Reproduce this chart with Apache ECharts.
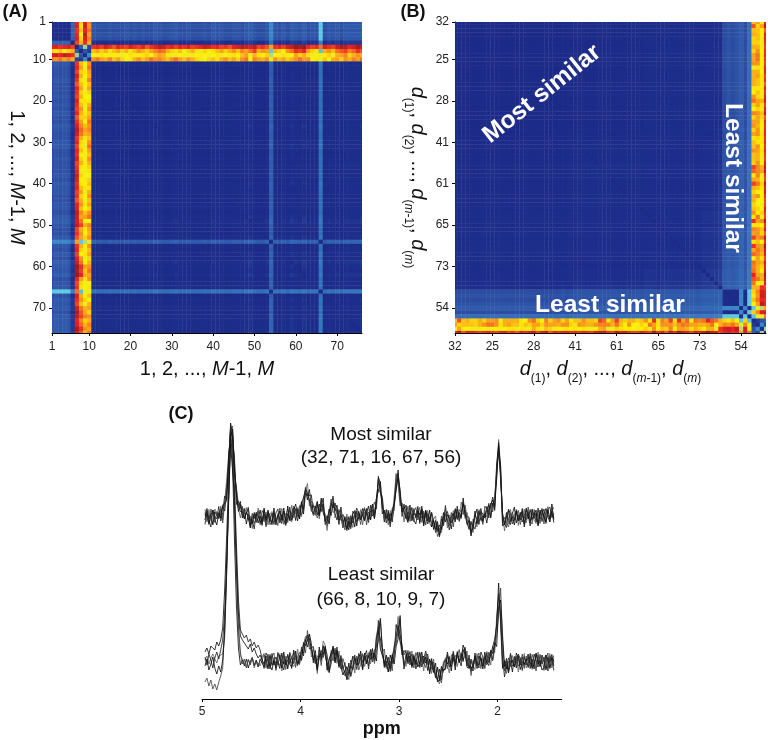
<!DOCTYPE html>
<html><head><meta charset="utf-8">
<script src="https://cdn.jsdelivr.net/npm/echarts@6/dist/echarts.min.js"></script>
<style>html,body{margin:0;padding:0;background:#fff}#c{width:768px;height:740px;filter:blur(.45px)}</style>
</head><body><div id="c"></div>
<script>
const FONT='"Liberation Sans",Arial,sans-serif';
// ---- panel A / B ----
const sampleIds=Array.from({length:76},(_,i)=>i+1);
const tickPositions=[1,10,20,30,40,50,60,70];
// mean-distance level of each sample 1..76
const level=[10,11,10,11,10,5,0,0,0,0,
2,1,1,1,2,1,1,1,2,1,
2,1,2,1,1,3,2,1,1,2,
3,1,1,2,1,1,1,2,1,3,
2,2,1,1,2,2,1,3,4,2,
1,1,3,13,2,1,3,1,4,3,
2,4,1,2,2,17,1,3,2,3,
1,3,3,3,3,4];
const quietTo66=38;
// distance of the four outlying samples to every sample 1..76
const hot7=[88,90,86,88,90,84,0,0,0,0,
86,88,84,90,86,82,88,86,84,90,
86,84,88,82,86,90,94,92,86,88,
84,88,86,90,84,86,88,92,90,86,
88,84,86,82,88,90,94,92,90,94,
84,86,82,72,86,88,84,90,92,98,
96,98,88,84,86,78,90,86,84,92,
96,94,88,90,96,92];
const hot8=[66,64,68,62,66,70,0,0,0,0,
68,72,66,70,64,68,72,66,70,64,
68,74,70,66,72,76,80,78,70,66,
64,68,62,66,70,64,60,66,62,64,
68,72,66,70,74,68,76,72,78,84,
70,74,72,38,70,66,62,74,78,86,
84,88,72,66,64,36,70,74,68,78,
82,84,76,80,86,82];
const hot9=[90,92,88,94,90,86,0,0,0,0,
62,60,64,62,60,63,61,60,62,64,
60,62,64,66,62,68,72,70,64,60,
60,62,60,61,60,63,60,62,60,62,
64,60,62,60,64,62,68,72,60,70,
64,62,66,52,62,60,64,60,62,72,
66,70,64,60,62,60,62,66,60,70,
72,76,66,70,74,70];
const hot10=[76,74,78,72,76,70,0,0,0,0,
74,78,72,70,76,68,72,66,62,64,
70,74,68,72,78,74,76,72,68,74,
78,72,68,74,70,66,64,62,66,68,
64,70,74,68,72,66,74,78,62,76,
72,70,74,60,74,68,72,66,70,74,
78,72,74,62,64,60,68,62,70,72,
66,74,70,76,72,78];
const hotBlock=[[2,14,48,10],[14,2,12,8],[48,12,2,24],[10,8,24,2]];
// samples sorted by mean distance (panel B)
const sortedOrder=[32,71,16,67,56,18,35,43,12,25,
22,37,14,51,29,44,20,33,58,28,
13,39,47,24,17,52,30,63,36,41,
11,45,21,69,34,50,27,15,42,61,
23,38,55,19,64,46,68,31,75,65,
26,53,72,40,60,48,74,57,70,73,
59,62,76,49,6,1,2,3,4,54,
5,66,8,10,9,7];
const hotRows={7:hot7,8:hot8,9:hot9,10:hot10};
function dist(i,j){
  if(i===j)return 2;
  const hi=hotRows[i],hj=hotRows[j];
  if(hi&&hj)return hotBlock[i-7][j-7];
  if(hi)return hi[j-1];
  if(hj)return hj[i-1];
  if(i<=5&&j<=5)return 3;
  if((i===54&&j===66)||(i===66&&j===54))return 4;
  if((i<=5&&j===66)||(j<=5&&i===66))return quietTo66;
  return level[i-1]+level[j-1];
}
const cellsA=[],cellsB=[];
sampleIds.forEach(r=>sampleIds.forEach(c=>{
  cellsA.push([c,r,dist(c,r)]);
  cellsB.push([c,r,dist(sortedOrder[c-1],sortedOrder[r-1])]);
}));
const heatColors=['#1c2a86','#1e2e8c','#2f55a8','#3470b9','#3c8ccc','#4aaadc','#5cc8e8','#80d0ba','#a6d68a','#d6e44a','#fff100','#fbb917','#f68b1f','#f15a22','#ed2024','#bc1e20','#8a1c1c'];

// ---- panel C ----  one value every 0.02 ppm from 4.97 to 1.43
const ppmStart=4.97, ppmStep=0.02;
const ppmTicks=[5,4,3,2];
const mostOffset=182, leastOffset=37, noiseGain=1.5;
const mostShape=[0,1,0,-1,1,2,1,3,2,3,
12,22,55,85,85,50,20,13,8,5,
4,2,1,-2,-4,-3,-1,0,-2,-1,
0,-1,1,0,-2,0,1,-1,0,1,
0,-1,2,1,3,2,4,5,4,8,
12,21,26,20,13,9,6,8,4,10,
10,-3,-6,2,9,12,8,3,0,1,
-2,-4,-6,-7,-6,-3,-1,0,1,0,
1,2,1,2,3,4,6,14,35,28,
12,4,0,-2,-1,1,8,36,38,20,
8,4,3,2,3,2,1,2,3,1,
2,0,1,-1,-2,-4,-5,-8,-12,-17,
-8,-3,4,-2,-4,-3,-1,1,2,3,
6,10,6,0,-8,-13,-8,-3,-1,0,
1,0,2,3,5,8,11,14,45,70,
42,-3,-5,-3,-1,0,-1,1,0,-1,
0,1,-1,0,1,0,-1,0,1,0,
1,0,2,1,3,1,4,2];
// lower group, from 4.37 ppm onward; A and B differ in where the peaks sit
const leastShapeA=[1,0,2,-1,1,0,-1,2,1,0,
1,0,-1,2,1,3,2,4,5,6,
12,18,24,22,14,8,4,-4,6,4,
12,14,-2,-6,4,10,8,6,2,-1,
-4,-8,-12,-10,-7,-3,-2,0,1,2,
1,3,4,2,4,6,10,18,34,22,
8,2,-2,-4,-2,0,10,30,38,24,
8,2,3,4,3,2,3,2,1,2,
1,0,2,-1,-3,-4,-6,-10,-14,-16,
-12,-6,0,1,-2,0,2,1,3,5,
5,8,6,2,-2,-6,-3,0,1,0,
1,2,1,3,4,6,10,14,44,70,
40,-2,-6,-4,-2,0,-1,1,0,-1,
0,-1,1,0,-1,1,0,-1,0,1,
0,1,-1,1,0,1,0,-1];
const leastShapeB=[1,0,2,-1,1,0,-1,2,1,0,
1,0,-1,2,1,3,2,4,5,6,
12,18,24,22,14,8,4,-4,6,4,
12,14,-2,-6,4,10,8,6,2,-1,
-4,-8,-12,-10,-7,-3,-2,0,1,2,
1,3,4,2,4,5,6,10,24,38,
16,4,-2,-4,-2,0,4,14,26,42,
16,4,3,4,3,2,3,2,1,2,
1,0,2,-1,-3,-4,-6,-10,-14,-16,
-12,-6,0,1,-2,0,2,1,3,5,
5,8,6,2,-2,-6,-3,0,1,0,
1,2,1,3,4,6,10,12,20,52,
68,22,-6,-4,-2,0,-1,1,0,-1,
0,-1,1,0,-1,1,0,-1,0,1,
0,1,-1,1,0,1,0,-1];
// 4.97 to 4.39 ppm of each lower trace
const leastEdge1=[2,6,-2,4,8,3,-1,6,4,8,24,90,165,225,215,150,85,30,6,3,1,-5,3,-2,4,-6,1,3,-4,2];
const leastEdge2=[10,14,8,16,18,12,20,16,22,34,72,125,180,232,200,120,55,14,-3,2,-4,3,-6,1,4,-3,2,-5,3,-1];
const leastEdge3=[-20,-16,-24,-18,-27,-22,-28,-20,-14,-6,36,95,165,228,210,150,90,35,10,-2,3,-6,2,-3,5,-4,0,-5,2,4];
const leastEdge4=[5,-3,8,2,-6,4,10,3,12,22,48,100,160,230,225,175,115,62,32,28,24,27,20,23,16,20,14,17,12,10];
const leastEdge5=[-4,3,-8,-2,5,-6,-12,-4,-10,2,30,88,160,218,220,165,100,48,26,22,20,16,13,18,10,14,8,4,7,2];
// trace-to-trace noise
const noise1=[3,-4,5,-2,-5,4,1,-3,6,-4,2,-5,3,0,-4,5,-2,3,-6,4,
-1,5,-3,2,-5,4,-2,6,-4,1,-3,4,-6,2,5,-1,-4,3,-2,5,
-5,1,4,-3,6,-2,-4,3,0,-5,4,-1,5,-6,2,3,-3,5,-4,1,
-2,6,-5,3,-1,4,-6,2,5,-3,1,-4,6,-2,3,-5,4,0,-3,5,
-6,2,4,-1,-4,5,-2,3,-5,1,6,-3,2,-4,5,-1,-5,4,1,-2,
3,-6,5,-3,2,4,-4,1,-2,6,-5,3,-1,5,-3,-4,2,6,-2,4,
-5,1,3,-6,4,-1,5,-3,2,-4,6,-2,-5,3,1,-3,4,-1,-6,5,
2,-4,3,-2,6,-5,1,4,-3,5,-1,2,-6,3,-4,5,-2,1,4,-5,
3,-1,6,-4,2,-3,5,-2,-5,4,1,6,-3,-1,5,-4,3,-2];
const noise2=[-2,5,-1,3,-6,2,4,-3,1,5,-4,2,-5,6,-1,-3,4,-2,5,-4,
3,-6,1,4,-2,5,-3,-1,6,-4,2,-5,3,1,-3,6,-4,2,-1,-5,
4,-2,6,-3,1,5,-5,2,-4,3,-1,4,-6,5,-2,1,3,-4,6,-3,
2,-1,5,-6,3,-2,4,1,-5,6,-3,2,-4,5,-1,3,-6,4,-2,1,
5,-3,-1,6,-4,2,-5,3,1,-2,4,-6,5,-1,3,-4,2,-5,6,-3,
1,4,-2,-5,6,-3,2,-1,5,-4,3,-6,4,1,-2,5,-5,3,-1,6,
-3,2,-4,5,1,-6,3,-2,4,-1,-5,6,-3,2,5,-4,1,-2,6,-5,
3,4,-1,-3,5,-6,2,-4,6,1,-3,4,-2,5,-1,-5,3,6,-4,2,
-2,5,-6,1,3,-4,6,-1,2,-5,4,-3,1,5,-2,-4,6,-3];
const noise3=[5,-1,-4,6,1,-5,3,-2,4,-6,1,5,-3,2,4,-5,6,-1,-2,3,
-4,1,6,-5,3,-2,-1,4,-3,5,1,-6,2,4,-4,3,1,-5,6,-2,
-1,3,-5,4,-2,6,1,-3,5,-4,-2,6,-1,3,-5,2,4,-6,1,5,
-3,4,-2,1,6,-5,-1,3,-3,2,5,-6,4,-1,-4,6,2,-3,1,-5,
3,5,-6,2,-1,-3,6,-4,4,-2,1,-5,3,6,-4,2,-1,5,-3,-6,
4,1,-3,6,-5,-1,3,5,-4,2,-2,4,-6,3,5,-1,-3,1,-5,2,
6,-4,-1,2,-3,5,-6,4,-2,3,1,-5,4,-1,-2,6,-5,3,2,-3,
-1,-5,6,3,-2,4,-4,5,-1,-3,6,-2,3,1,-6,-1,4,-3,2,5,
-5,1,3,-2,6,-3,-4,5,-1,2,-5,4,-6,3,1,-2,5,4];
const noise4=[-5,2,3,-6,4,-1,-2,5,-4,1,6,-3,-1,4,-2,3,-5,2,6,-1,
-3,-2,5,-4,1,-6,4,3,-1,-5,6,-2,1,-3,4,-5,2,6,-4,1,
3,-5,-2,6,-4,1,3,-6,2,4,-3,5,1,-2,4,-5,-1,3,-2,6,
-4,1,3,-5,2,6,-3,-4,5,-1,-6,3,1,-4,5,-2,-3,6,2,-1,
-3,4,1,-5,6,-2,-1,3,-6,5,-2,1,-4,3,-6,5,2,-1,4,3,
-5,6,-3,2,-1,-4,5,-2,3,-5,6,-1,2,-4,-3,6,1,-5,3,-2,
4,-3,5,-1,-6,2,3,-4,6,-5,-2,3,1,-4,-3,5,2,-6,-1,4,
-3,1,-2,5,-4,2,6,-5,3,-3,1,4,-1,-5,6,2,-4,-2,5,-1,
3,-4,-2,5,1,-6,2,3,-4,6,-2,-1,4,-5,3,6,-3,1];
const noise5=[1,3,-5,2,4,-3,-6,1,-2,6,-1,-4,5,-3,2,-2,1,-5,3,6,
-4,2,-1,-6,5,1,3,-4,2,-3,5,-1,4,-5,-2,3,-6,1,4,-3,
6,-4,1,-2,-5,3,6,-1,-3,5,-6,2,-3,1,6,-4,-2,5,-1,-4,
6,-3,1,4,-5,2,-1,6,-2,-4,3,1,-5,2,-3,4,5,-6,3,-2,
1,-4,5,-3,2,6,-5,-1,3,4,-6,2,-1,5,-2,-3,4,-6,1,5,
-2,3,6,-4,-1,5,-3,-6,2,1,4,-5,3,-2,6,-4,1,-3,5,-1,
-2,5,-6,3,4,-2,-1,5,-3,1,-4,2,6,-5,3,-1,-2,6,-4,1,
5,-3,1,-6,2,-1,4,-2,-5,3,6,-4,-1,2,5,-3,1,-6,4,-2,
1,3,-4,6,-2,5,-1,-3,4,-6,2,5,-1,-4,3,-2,1,-5];
const noises=[noise1,noise2,noise3,noise4,noise5];
const leastEdges=[leastEdge1,leastEdge2,leastEdge3,leastEdge4,leastEdge5];
const leastShapes=[leastShapeA,leastShapeA,leastShapeB,leastShapeA,leastShapeB];
const traceColors=['#666','#111','#444','#222','#111'];
const ppmAt=i=>+(ppmStart-ppmStep*i).toFixed(2);

function renderCell(params,api){
  const x=api.value(0),y=api.value(1);
  const a=api.coord([x-.5,y-.5]),b=api.coord([x+.5,y+.5]);
  return {type:'rect',silent:true,shape:{x:a[0],y:a[1],width:b[0]-a[0]+.4,height:b[1]-a[1]+.4},style:{fill:api.visual('color')}};
}
function squareX(idx,fmt,name,gap){return {type:'value',gridIndex:idx,min:1,max:76,name,nameLocation:'middle',nameGap:gap,nameMoveOverlap:false,
  nameTextStyle:nameStyle,splitLine:{show:false},axisLine:{onZero:false,lineStyle:{color:'#000',width:1}},
  axisTick:{length:3,customValues:tickPositions,lineStyle:{color:'#000'}},
  axisLabel:{customValues:tickPositions,margin:8,fontSize:12,fontFamily:FONT,color:'#222',formatter:fmt}};}
function squareY(idx,fmt,name,gap){return {type:'value',gridIndex:idx,min:1,max:76,inverse:true,name,nameLocation:'middle',nameGap:gap,nameRotate:-90,nameMoveOverlap:false,
  nameTextStyle:nameStyle,splitLine:{show:false},axisLine:{onZero:false,lineStyle:{color:'#000',width:1}},
  axisTick:{length:3,customValues:tickPositions,lineStyle:{color:'#000'}},
  axisLabel:{customValues:tickPositions,margin:6,fontSize:12,fontFamily:FONT,color:'#222',formatter:fmt}};}
const nameStyle={fontFamily:FONT,fontSize:20,color:'#111',rich:{
  r:{fontFamily:FONT,fontSize:20,color:'#111',lineHeight:32},
  i:{fontFamily:FONT,fontSize:20,fontStyle:'italic',color:'#111',lineHeight:32},
  d:{fontFamily:FONT,fontSize:20,fontStyle:'italic',color:'#111',lineHeight:32},
  s:{fontFamily:FONT,fontSize:12,color:'#111',verticalAlign:'bottom',lineHeight:13},
  si:{fontFamily:FONT,fontSize:12,fontStyle:'italic',color:'#111',verticalAlign:'bottom',lineHeight:13}
}};
const plainName='{r|1, 2, ..., }{i|M}{r|-1, }{i|M}';
const subName='{d|d}{s|(1)}{r|, }{d|d}{s|(2)}{r|, ..., }{d|d}{s|(}{si|m}{s|-1)}{r|, }{d|d}{s|(}{si|m}{s|)}';
const idLabel=v=>String(v);
const sortedLabel=v=>String(sortedOrder[v-1]);

const series=[
 {type:'custom',xAxisIndex:0,yAxisIndex:0,data:cellsA,renderItem:renderCell,clip:true,encode:{x:0,y:1},animation:false,progressive:0},
 {type:'custom',xAxisIndex:1,yAxisIndex:1,data:cellsB,renderItem:renderCell,clip:true,encode:{x:0,y:1},animation:false,progressive:0}
];
noises.forEach((n,k)=>{
  series.push({type:'line',xAxisIndex:2,yAxisIndex:2,showSymbol:false,symbol:'none',animation:false,silent:true,clip:false,
    lineStyle:{color:traceColors[k],width:.85},z:3+k,
    data:mostShape.map((h,i)=>[ppmAt(i),mostOffset+h+n[i]*noiseGain])});
});
noises.forEach((n,k)=>{
  const full=leastEdges[k].concat(leastShapes[k].map((h,i)=>h+n[177-(i+30)]*noiseGain));
  series.push({type:'line',xAxisIndex:2,yAxisIndex:2,showSymbol:false,symbol:'none',animation:false,silent:true,clip:false,
    lineStyle:{color:traceColors[k],width:.85},z:3+k,
    data:full.map((h,i)=>[ppmAt(i),leastOffset+h])});
});
function label(text,x,y,font,fill,rot){return {type:'text',x,y,rotation:rot||0,z:50,silent:true,
  style:{text,font,fill:fill||'#111',align:'center',verticalAlign:'middle'}};}
const boldL='bold 18px '+FONT, body='19px '+FONT, wht='bold 24.5px '+FONT;
const chart=echarts.init(document.getElementById('c'),null,{renderer:'canvas'});
chart.setOption({
 animation:false,backgroundColor:'#fff',
 grid:[{left:52,top:22,width:310,height:311,outerBoundsMode:'none'},{left:455,top:22,width:311,height:311,outerBoundsMode:'none'},{left:202,top:420,width:359.7,height:279,outerBoundsMode:'none'}],
 visualMap:{show:false,type:'continuous',seriesIndex:[0,1],dimension:2,min:0,max:100,inRange:{color:heatColors}},
 xAxis:[squareX(0,idLabel,plainName,20),squareX(1,sortedLabel,subName,20),
  {type:'value',gridIndex:2,min:1.35,max:5,inverse:true,name:'ppm',nameLocation:'middle',nameGap:21,nameMoveOverlap:false,
   nameTextStyle:{fontFamily:FONT,fontSize:18,fontWeight:'bold',color:'#111'},splitLine:{show:false},
   axisLine:{onZero:false,lineStyle:{color:'#000',width:1}},axisTick:{length:3,customValues:ppmTicks,lineStyle:{color:'#000'}},
   axisLabel:{customValues:ppmTicks,margin:7,fontSize:12,fontFamily:FONT,color:'#222'}}],
 yAxis:[squareY(0,idLabel,plainName,19),squareY(1,sortedLabel,subName,21),
  {type:'value',gridIndex:2,min:0,max:279,show:false}],
 series,
 graphic:{elements:[
  label('(A)',15,12,boldL),label('(B)',413,12,boldL),label('(C)',181,414,boldL),
  label('Most similar',542,94,wht,'#fff',Math.PI*38.5/180),
  label('Least similar',610,305,wht,'#fff'),
  label('Least similar',733,178,wht,'#fff',-Math.PI/2),
  label('Most similar',381,435,body),label('(32, 71, 16, 67, 56)',381,458,body),
  label('Least similar',381,575,body),label('(66, 8, 10, 9, 7)',381,600,body)
 ]}
});
</script></body></html>
